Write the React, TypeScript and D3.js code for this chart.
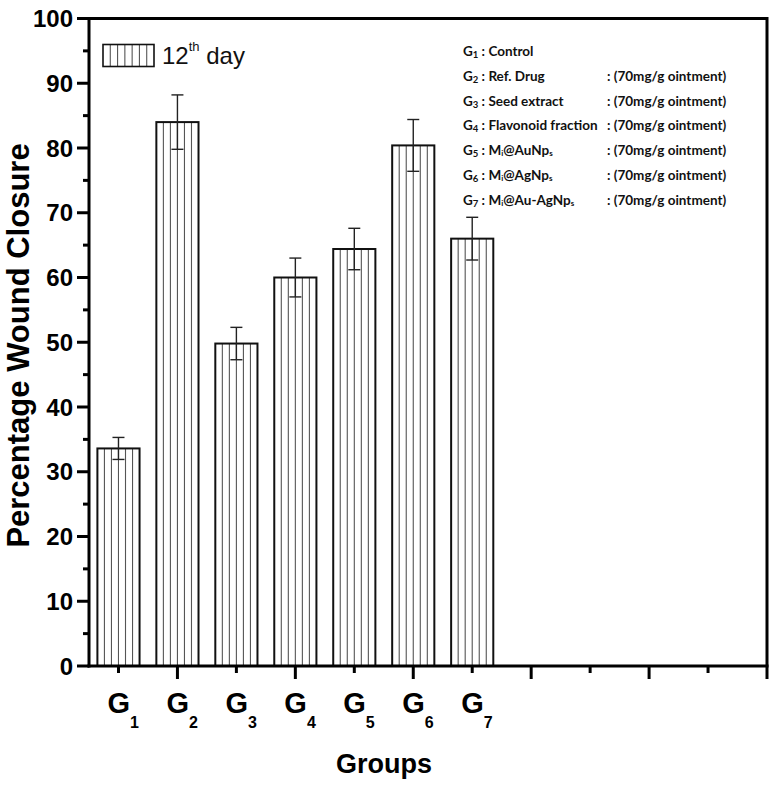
import React from "react";
import * as d3 from "d3";

const groupIds = ["1", "2", "3", "4", "5", "6", "7"];
const closureValues = [33.6, 84.0, 49.8, 60.0, 64.4, 80.4, 66.0];
const closureErrors = [1.7, 4.2, 2.5, 3.0, 3.2, 4.0, 3.3];
const yMajorTicks = [0, 10, 20, 30, 40, 50, 60, 70, 80, 90, 100];
const yMinorTicks = [5, 15, 25, 35, 45, 55, 65, 75, 85, 95];
const xTickValues = [1, 2, 3, 4, 5, 6, 7, 8, 9, 10, 11, 12];
const treatmentNames = [
  "Control",
  "Ref. Drug",
  "Seed extract",
  "Flavonoid fraction",
  "Mif@AuNps",
  "Mif@AgNps",
  "Mif@Au-AgNps",
];
const treatmentDoses = [
  "",
  ": (70mg/g ointment)",
  ": (70mg/g ointment)",
  ": (70mg/g ointment)",
  ": (70mg/g ointment)",
  ": (70mg/g ointment)",
  ": (70mg/g ointment)",
];
const legendLabel = "12";
const legendSup = "th";
const legendRest = " day";
const yTitle = "Percentage Wound Closure";
const xTitle = "Groups";

const W = 774;
const H = 785;
const left = 89;
const right = 767;
const top = 18.5;
const bottom = 666;

const AXIS_FONT = "'Liberation Sans', Arial, sans-serif";
const NOTE_FONT = "Lato, 'Open Sans', sans-serif";

function renderName(name: string) {
  if (name.startsWith("Mif@")) {
    const rest = name.slice(3, name.length - 1);
    return (
      <>
        M
        <tspan fontSize="8" dy="1">i</tspan>
        <tspan dy="-1">{rest}</tspan>
        <tspan fontSize="8" dy="1">s</tspan>
        <tspan dy="-1"></tspan>
      </>
    );
  }
  return name;
}

export default function App() {
  const x = d3.scaleLinear().domain([0.5, 12]).range([left, right]);
  const y = d3.scaleLinear().domain([0, 100]).range([bottom, top]);
  const step = x(2) - x(1);
  const bw = step * 0.715;

  return (
    <svg
      width={W}
      height={H}
      style={{ position: "absolute", left: 0, top: 0, background: "#fff" }}
    >
      <rect x={0} y={0} width={W} height={H} fill="#fff" />
      {/* bars */}
      {closureValues.map((v, i) => {
        const cx = x(i + 1);
        const x0 = cx - bw / 2;
        const yt = y(v);
        const hatch = d3.range(1, 6).map((k) => x0 + (k * bw) / 6);
        const e = closureErrors[i];
        return (
          <g key={i}>
            {hatch.map((hx, k) => (
              <line
                key={k}
                x1={hx}
                x2={hx}
                y1={yt}
                y2={bottom}
                stroke="#555"
                strokeWidth={1.1}
              />
            ))}
            <rect
              x={x0}
              y={yt}
              width={bw}
              height={bottom - yt}
              fill="none"
              stroke="#111"
              strokeWidth={2}
            />
            <line x1={cx} x2={cx} y1={y(v + e)} y2={y(v - e)} stroke="#222" strokeWidth={1.4} />
            <line x1={cx - 6} x2={cx + 6} y1={y(v + e)} y2={y(v + e)} stroke="#222" strokeWidth={1.4} />
            <line x1={cx - 6} x2={cx + 6} y1={y(v - e)} y2={y(v - e)} stroke="#222" strokeWidth={1.4} />
          </g>
        );
      })}

      {/* frame */}
      <line x1={left} x2={right} y1={top} y2={top} stroke="#000" strokeWidth={3} />
      <line x1={right} x2={right} y1={top - 1.5} y2={bottom} stroke="#000" strokeWidth={3} />
      <line x1={left} x2={left} y1={top - 1.5} y2={bottom + 1.5} stroke="#000" strokeWidth={3} />
      <line x1={left - 1.5} x2={right + 1.5} y1={bottom} y2={bottom} stroke="#000" strokeWidth={3} />

      {/* y ticks */}
      {yMajorTicks.map((t) => (
        <g key={"ym" + t}>
          <line x1={left - 12} x2={left} y1={y(t)} y2={y(t)} stroke="#000" strokeWidth={3} />
          <text
            x={73}
            y={y(t)}
            dy="0.36em"
            textAnchor="end"
            fontFamily={AXIS_FONT}
            fontWeight="bold"
            fontSize={24}
            fill="#000"
          >
            {t}
          </text>
        </g>
      ))}
      {yMinorTicks.map((t) => (
        <line key={"yn" + t} x1={left - 6} x2={left} y1={y(t)} y2={y(t)} stroke="#000" strokeWidth={3} />
      ))}

      {/* x ticks */}
      {xTickValues.map((t) => (
        <line
          key={"xt" + t}
          x1={x(t)}
          x2={x(t)}
          y1={bottom}
          y2={bottom + (t % 2 === 0 ? 13 : 7)}
          stroke="#000"
          strokeWidth={3}
        />
      ))}
      {groupIds.map((g, i) => (
        <text
          key={"gl" + g}
          x={x(i + 1) - 11}
          y={713}
          fontFamily={AXIS_FONT}
          fontWeight="bold"
          fontSize={29}
          fill="#000"
        >
          G
          <tspan fontSize={16} dy={15}>
            {g}
          </tspan>
        </text>
      ))}

      {/* axis titles */}
      <text
        x={(left + 679) / 2}
        y={773}
        textAnchor="middle"
        fontFamily={AXIS_FONT}
        fontWeight="bold"
        fontSize={27}
        fill="#000"
      >
        {xTitle}
      </text>
      <text
        transform={`translate(29, ${(bottom + 25) / 2 + 0}) rotate(-90)`}
        x={0}
        y={0}
        textAnchor="middle"
        fontFamily={AXIS_FONT}
        fontWeight="bold"
        fontSize={31}
        fill="#000"
      >
        {yTitle}
      </text>

      {/* legend */}
      <g>
        {d3.range(1, 7).map((k) => (
          <line
            key={k}
            x1={103 + (k * 51) / 7}
            x2={103 + (k * 51) / 7}
            y1={44.5}
            y2={66.5}
            stroke="#555"
            strokeWidth={1.1}
          />
        ))}
        <rect x={103} y={44.5} width={51} height={22} fill="none" stroke="#111" strokeWidth={1.6} />
        <text x={162} y={64} fontFamily={AXIS_FONT} fontSize={24} fill="#111">
          {legendLabel}
          <tspan fontSize={13} dy={-13}>
            {legendSup}
          </tspan>
          <tspan dy={13}>{legendRest}</tspan>
        </text>
      </g>

      {/* annotation */}
      {treatmentNames.map((n, i) => {
        const by = 56 + i * 24.8;
        return (
          <g key={"an" + i} fontFamily={NOTE_FONT} fontWeight="bold" fontSize={13.5} fill="#111">
            <text x={463} y={by}>
              G
              <tspan fontSize={9.5} dy={2}>
                {groupIds[i]}
              </tspan>
              <tspan dy={-2}> : </tspan>
              {renderName(n)}
            </text>
            {treatmentDoses[i] && (
              <text x={607} y={by}>
                {treatmentDoses[i]}
              </text>
            )}
          </g>
        );
      })}
    </svg>
  );
}
